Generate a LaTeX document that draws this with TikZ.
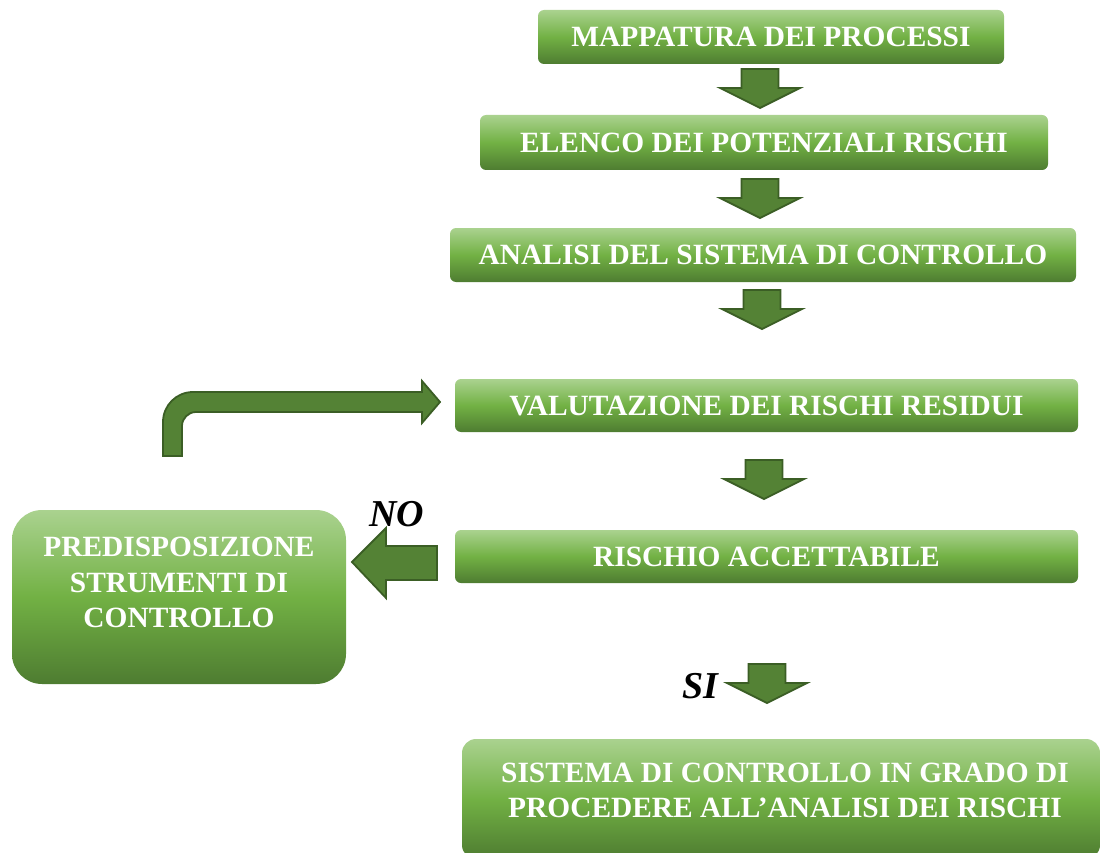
\documentclass[tikz,border=0pt]{standalone}
\usepackage{fontspec}
\setmainfont{Liberation Serif}
\definecolor{gtop}{HTML}{AAD28F}
\definecolor{gmid}{HTML}{72B144}
\definecolor{gbot}{HTML}{4E7C31}
\definecolor{afill}{HTML}{548235}
\definecolor{aline}{HTML}{3B5E25}
\tikzset{
  box/.style={rounded corners=6pt, top color=gtop, bottom color=gbot, middle color=gmid,
    draw=none, inner sep=0pt, text=white},
  boxtext/.style={text=white, font=\fontsize{29.4}{35.5}\selectfont\bfseries, align=center, inner sep=0pt},
  arrowfill/.style={fill=afill, draw=aline, line width=1.8pt, line join=miter},
  yesno/.style={font=\fontsize{38}{40}\selectfont\bfseries\itshape, inner sep=0pt},
  darr/.pic={\path[arrowfill] (-18.5,0) -- (18.5,0) -- (18.5,19) -- (40,19) -- (0,39)
    -- (-40,19) -- (-18.5,19) -- cycle;}
}
\begin{document}
\begin{tikzpicture}[x=1pt,y=-1pt]
\useasboundingbox (0,0) rectangle (1102,853);
\clip (0,0) rectangle (1102,853);
% boxes
\node[box, minimum width=466pt, minimum height=54pt] (m1) at (771,37) {};
\node[boxtext] (m1t) at (m1.center) {MAPPATURA DEI PROCESSI};
\node[box, minimum width=568pt, minimum height=55pt] (m2) at (764,142.5) {};
\node[boxtext] (m2t) at (m2.center) {ELENCO DEI POTENZIALI RISCHI};
\node[box, minimum width=626pt, minimum height=54pt] (m3) at (763,255) {};
\node[boxtext] (m3t) at (m3.center) {ANALISI DEL SISTEMA DI CONTROLLO};
\node[box, minimum width=623pt, minimum height=53pt] (m4) at (766.5,405.5) {};
\node[boxtext] (m4t) at (m4.center) {VALUTAZIONE DEI RISCHI RESIDUI};
\node[box, minimum width=623pt, minimum height=53pt] (m5) at (766.5,556.5) {};
\node[boxtext] (m5t) at (m5.center) {RISCHIO ACCETTABILE};
\node[box, rounded corners=30pt, minimum width=334pt, minimum height=174pt] (pred) at (179,597) {};
\node[boxtext] (predt) at (179,582.5) {PREDISPOSIZIONE\\STRUMENTI DI\\CONTROLLO};
\node[box, rounded corners=14pt, minimum width=638pt, minimum height=120pt] (sis) at (781,799) {};
\node[boxtext] (sist) at (785,790.5) {SISTEMA DI CONTROLLO IN GRADO DI\\PROCEDERE ALL'ANALISI DEI RISCHI};
% down arrows
\pic at (760,69) {darr};
\pic at (760,179) {darr};
\pic at (762,290) {darr};
\pic at (764,460) {darr};
\pic at (767,664) {darr};
% NO arrow (left)
\path[arrowfill] (437,546) -- (386,546) -- (386,528) -- (352,562) -- (386,598) -- (386,580) -- (437,580) -- cycle;
% bent arrow back to VALUTAZIONE
\path[arrowfill] (163,456) -- (163,422) .. controls (163,405.4) and (176.4,392) .. (193,392)
  -- (422,392) -- (422,381) -- (440,402) -- (422,423) -- (422,412) -- (196,412)
  .. controls (188.3,412) and (182,418.3) .. (182,426) -- (182,456) -- cycle;
% labels
\node[yesno] (no) at (397,514) {NO};
\node[yesno] (si) at (700,686) {SI};
\end{tikzpicture}
\end{document}
